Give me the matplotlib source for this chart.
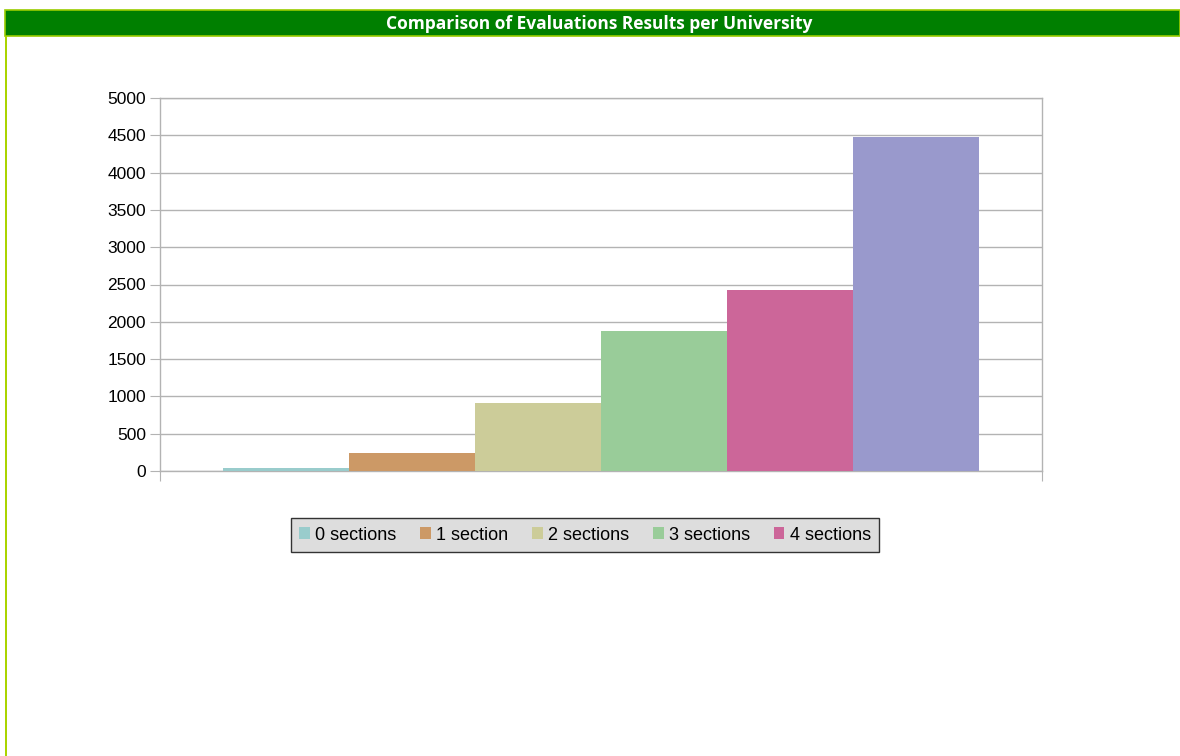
#!/usr/bin/env python3

import matplotlib
matplotlib.use("Agg")
import matplotlib.pyplot as plt
from matplotlib.patches import Rectangle


TITLE = "Comparison of Evaluations Results per University"
SERIES_LABELS = ["0 sections", "1 section", "2 sections", "3 sections", "4 sections", "5 sections"]
SERIES_VALUES = [40, 240, 910, 1880, 2430, 4480]
SERIES_COLORS = ["#99cccc", "#cc9966", "#cccc99", "#99cc99", "#cc6699", "#9999cc"]
LEGEND_COUNT = 5  # the original legend only lists the first five series
Y_TICKS = list(range(0, 5001, 500))

FIGURE_WIDTH_PX = 1180
FIGURE_HEIGHT_PX = 756
FIGURE_DPI = 100
GRID_COLOR = "#b3b3b3"


def px_x(x: float) -> float:
    return x / FIGURE_WIDTH_PX


def px_y(y: float) -> float:
    return 1 - y / FIGURE_HEIGHT_PX


def main() -> int:
    plt.rcParams["font.family"] = ["Liberation Sans", "DejaVu Sans"]
    fig = plt.figure(
        figsize=(FIGURE_WIDTH_PX / FIGURE_DPI, FIGURE_HEIGHT_PX / FIGURE_DPI),
        dpi=FIGURE_DPI,
    )

    # title banner and left frame line
    fig.patches.append(Rectangle(
        (px_x(5), px_y(36)), px_x(1180) - px_x(5), px_y(10) - px_y(36),
        transform=fig.transFigure, facecolor="#007f00", edgecolor="#99cc00",
        linewidth=1.2,
    ))
    fig.patches.append(Rectangle(
        (px_x(5), 0), px_x(2), px_y(36),
        transform=fig.transFigure, facecolor="#aad400", edgecolor="none",
    ))
    fig.text(
        px_x(599), px_y(24), TITLE, color="white", fontsize=12.5,
        fontweight="bold", ha="center", va="center", family=["Open Sans", "DejaVu Sans"],
    )

    ax = fig.add_axes([
        px_x(160), px_y(471),
        px_x(1042) - px_x(160), px_y(98) - px_y(471),
    ])

    count = len(SERIES_VALUES)
    width = 1 / (count + 1)
    handles = []
    for index, (label, value, color) in enumerate(zip(SERIES_LABELS, SERIES_VALUES, SERIES_COLORS)):
        offset = (index - (count - 1) / 2) * width
        bar = ax.bar(offset, value, width=width, color=color, label=label, zorder=3)
        handles.append(bar)

    ax.set_xlim(-0.5, 0.5)
    ax.set_ylim(0, 5000)
    ax.set_yticks(Y_TICKS)
    ax.set_xticks([-0.5, 0.5])
    ax.set_xticklabels([])
    ax.tick_params(axis="y", length=7, color=GRID_COLOR, labelsize=12.5, pad=3)
    ax.tick_params(axis="x", length=7, color=GRID_COLOR)
    ax.yaxis.grid(True, color=GRID_COLOR, linewidth=1, zorder=0)
    ax.set_axisbelow(True)
    for spine in ax.spines.values():
        spine.set_color(GRID_COLOR)
        spine.set_linewidth(1)

    legend = fig.legend(
        handles[:LEGEND_COUNT],
        SERIES_LABELS[:LEGEND_COUNT],
        loc="center",
        bbox_to_anchor=(px_x(585), px_y(535)),
        ncol=LEGEND_COUNT,
        fontsize=13,
        frameon=True,
        fancybox=False,
        framealpha=1,
        handlelength=0.6,
        handleheight=0.6,
        handletextpad=0.3,
        columnspacing=1.3,
        borderpad=0.45,
    )
    legend.get_frame().set_facecolor("#dddddd")
    legend.get_frame().set_edgecolor("#333333")
    legend.get_frame().set_linewidth(1)

    fig.savefig("out.png", dpi=FIGURE_DPI)
    return 0


if __name__ == "__main__":
    raise SystemExit(main())
